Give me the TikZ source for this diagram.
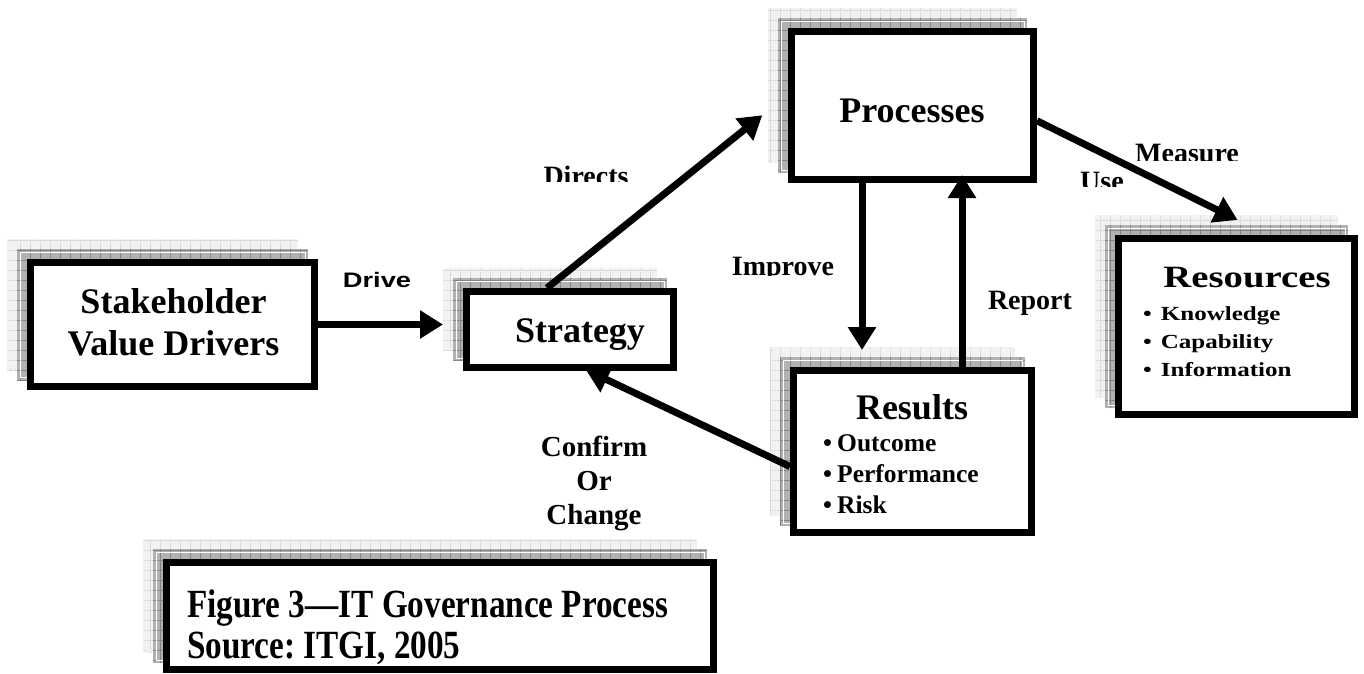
\documentclass[tikz,border=0pt]{standalone}
\usepackage{fontspec}
\setmainfont{Liberation Serif}
\setsansfont{Liberation Sans}
\newfontfamily\narrowserif[FakeStretch=0.83]{Liberation Serif}
\newfontfamily\wideserif[FakeStretch=1.25]{Liberation Serif}
\newfontfamily\widesans[FakeStretch=1.3]{Liberation Sans}
\usetikzlibrary{arrows.meta,calc,backgrounds}
\frenchspacing

\definecolor{shadelight}{gray}{0.95}
\definecolor{gridlight}{gray}{0.86}
\definecolor{shadedark}{gray}{0.70}
\definecolor{griddark}{gray}{0.52}

\tikzset{
  govbox/.style={draw=black, line width=7pt, fill=white, inner sep=0pt},
  flow/.style={line width=7pt, -{Triangle[length=23pt 0, width=27pt 0]}},
  boxtitle/.style={font=\bfseries\fontsize{36}{42}\selectfont, inner sep=0pt},
  lbl/.style={font=\bfseries\fontsize{28}{34}\selectfont, inner sep=0pt},
  itemtext/.style={font=\bfseries\fontsize{25.5}{31}\selectfont, inner sep=0pt, anchor=base west}
}

% two stacked grid shadows behind a box
\newcommand{\gridshadow}[1]{%
  \begin{scope}[on background layer]
    \foreach \off/\fc/\gc/\wc in {20/shadelight/gridlight/shadelight,10/shadedark/griddark/white} {
      \begin{scope}
        \path [clip] ($(#1.north west)+(-\off,-\off)$) rectangle ($(#1.south east)+(-\off,-\off)$);
        \path [fill=\fc] ($(#1.north west)+(-\off,-\off)$) rectangle ($(#1.south east)+(-\off,-\off)$);
        \draw [draw=\gc, line width=0.6pt, step=10pt] ($(#1.north west)+(-\off,-\off)$) grid ($(#1.south east)+(-\off,-\off)$);
        \draw [draw=\wc, line width=0.8pt] ($(#1.north west)+(-\off+3,-\off+3)$) rectangle ($(#1.south east)+(-\off-3,-\off-3)$);
      \end{scope}
    }
  \end{scope}}

\begin{document}
\begin{tikzpicture}[x=1pt, y=-1pt]
    \useasboundingbox (0,0) rectangle (1364,673);
    % boxes
    \node [govbox, minimum width=284, minimum height=124] (stake) at (172.5,324.5) {};
    \node [govbox, minimum width=207, minimum height=76] (strategy) at (570,329.5) {};
    \node [govbox, minimum width=242, minimum height=148] (processes) at (912.5,105.5) {};
    \node [govbox, minimum width=236, minimum height=176] (resources) at (1236.5,326.5) {};
    \node [govbox, minimum width=238, minimum height=162] (results) at (912.5,451.5) {};
    \node [govbox, minimum width=547, minimum height=107] (figbox) at (440,616) {};
    \gridshadow{stake}
    \gridshadow{strategy}
    \gridshadow{processes}
    \gridshadow{resources}
    \gridshadow{results}
    \gridshadow{figbox}
    % box texts
    \node [boxtitle, align=center] (stake-text) at (173.5,322) {Stakeholder\\Value Drivers};
    \node [boxtitle, anchor=base] (strategy-text) at (580,342) {Strategy};
    \node [boxtitle, anchor=base] (processes-text) at (912,122.7) {Processes};
    \node [boxtitle, anchor=base, font=\wideserif\bfseries\fontsize{31}{36}\selectfont] (resources-text) at (1247,287) {Resources};
    \node [itemtext, font=\wideserif\bfseries\fontsize{20}{28}\selectfont] (res-know) at (1143,320) {•\hspace{0.45em}Knowledge};
    \node [itemtext, font=\wideserif\bfseries\fontsize{20}{28}\selectfont] (res-cap) at (1143,348) {•\hspace{0.45em}Capability};
    \node [itemtext, font=\wideserif\bfseries\fontsize{20}{28}\selectfont] (res-info) at (1143,376) {•\hspace{0.45em}Information};
    \node [boxtitle, anchor=base] (results-text) at (912,419) {Results};
    \node [itemtext] (res-out) at (823,451) {•\hspace{0.2em}Outcome};
    \node [itemtext] (res-perf) at (823,482) {•\hspace{0.2em}Performance};
    \node [itemtext] (res-risk) at (823,513) {•\hspace{0.2em}Risk};
    \node [anchor=west, align=left, inner sep=0pt, font=\narrowserif\bfseries\fontsize{40}{41}\selectfont] (figcap) at (187,627.5) {Figure 3—IT Governance Process\\Source: ITGI, 2005};
    % connectors
    \draw [flow, shorten >=20pt] (stake.east) -- (stake.east -| strategy.west);
    \draw [flow, shorten >=33pt] (strategy.119) -- (processes.175);
    \draw [flow, shorten >=34pt] (processes.-7) -- (resources.71);
    \draw [flow, shorten >=17pt] ([xshift=-50.5pt]processes.south) -- ([xshift=-50.5pt]results.north);
    \draw [flow, shorten >=-8pt] ([xshift=49.5pt]results.north) -- ([xshift=49.5pt]processes.south);
    \draw [flow, shorten >=-3pt] (results.187) -- (strategy.-66);
    % labels
    \node [anchor=base, inner sep=0pt, font=\widesans\bfseries\fontsize{21}{25}\selectfont] (drive) at (377,287) {Drive};
    \begin{scope}
      \clip (520,150) rectangle (660,181.5);
      \node [lbl, anchor=base] (directs) at (586,185) {Directs};
    \end{scope}
    \begin{scope}
      \clip (1120,130) rectangle (1260,160);
      \node [lbl, anchor=base] (measure) at (1187,162) {Measure};
    \end{scope}
    \begin{scope}
      \clip (1070,160) rectangle (1135,186);
      \node [lbl, anchor=base] (use) at (1102,190.5) {Use};
    \end{scope}
    \begin{scope}
      \clip (720,240) rectangle (850,275);
      \node [lbl, anchor=base] (improve) at (783,275.5) {Improve};
    \end{scope}
    \node [lbl, anchor=base] (report) at (1030,309) {Report};
    \node [lbl, align=center, font=\bfseries\fontsize{29}{34}\selectfont] (confirm) at (594,483) {Confirm\\Or\\Change};
\end{tikzpicture}
\end{document}
